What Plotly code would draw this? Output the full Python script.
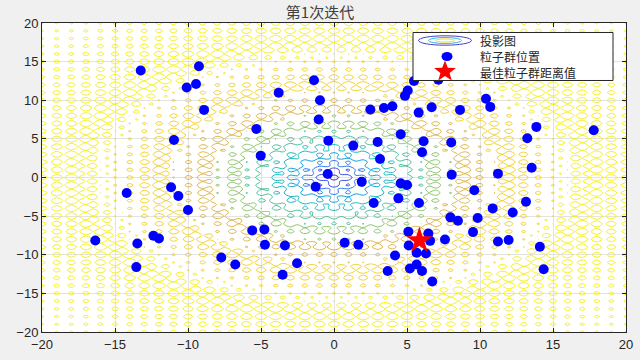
import numpy as np
import plotly.graph_objects as go

# particle positions
particle_x = [-13.24, -9.25, -9.45, -10.09, -8.9, -10.96, -1.37, -3.79, -0.96, -1.05,
              -5.32, -5.02, -0.39, 1.32, 2.99, 3.15, -0.43, 2.49, 3.42, 4.0,
              4.86, 5.05, 5.48, 5.8, 4.57, 6.14, 6.03, 6.69, 7.15, 8.63,
              10.41, 10.7, 13.86, 13.24, 17.79, 8.03, 13.54, 11.23, 8.06, -14.2,
              -11.16, -10.66, -10.0, -16.35, -13.47, -12.37, -11.99, -13.54, -7.72, -6.76,
              -1.26, 1.9, 4.57, 5.0, 4.41, 2.72, 5.82, -5.6, -4.77, -4.73,
              -3.36, -2.53, -3.52, 0.73, 1.67, 5.09, 6.46, 6.58, 5.12, 5.66,
              6.3, 4.18, 5.66, 5.2, 6.03, 3.68, 6.73, 9.61, 13.15, 10.87,
              12.24, 7.97, 8.49, 9.84, 9.52, 7.6, 11.23, 11.96, 14.1, 14.36]
particle_y = [13.85, 14.4, 12.1, 11.65, 8.75, 4.86, 12.6, 10.96, 10.0, 7.5,
              6.29, 2.83, 4.77, 4.13, 4.6, 2.4, 0.45, 8.8, 9.0, 9.23,
              10.57, 11.26, 12.5, 8.4, 5.6, 4.7, 3.27, 9.1, 12.65, 8.75,
              10.2, 9.14, 6.55, 5.08, 6.12, 4.52, 1.27, 0.5, 0.37, -2.0,
              -1.27, -2.4, -4.2, -8.15, -8.54, -7.55, -7.89, -11.6, -10.35, -11.26,
              -1.19, -0.54, -0.76, -0.97, -2.7, -3.3, -3.3, -6.85, -6.72, -8.71,
              -8.8, -11.1, -12.6, -8.45, -8.71, -7.03, -7.24, -8.2, -8.8, -9.75,
              -9.84, -10.1, -11.26, -11.78, -12.1, -12.1, -13.47, -1.66, -3.13, -4.0,
              -4.52, -5.16, -5.6, -5.25, -7.07, -8.02, -8.28, -8.1, -8.97, -11.87]
best_x = [5.85]
best_y = [-8.15]

title_text = "第1次迭代"
legend_names = ["投影图", "粒子群位置", "最佳粒子群距离值"]
tick_vals = [-20, -15, -10, -5, 0, 5, 10, 15, 20]
contour_levels = dict(start=2, end=20, size=2)

# objective surface (Ackley function) on a grid
g = np.arange(-20, 20.0001, 0.5)
X, Y = np.meshgrid(g, g)
Z = (-20 * np.exp(-0.2 * np.sqrt(0.5 * (X**2 + Y**2)))
     - np.exp(0.5 * (np.cos(2 * np.pi * X) + np.cos(2 * np.pi * Y))) + np.e + 20)

level_colors = [[0.0, "#3d2ba0"], [0.111, "#3a4de0"], [0.222, "#2a78f0"], [0.333, "#10a0dc"],
                [0.444, "#1bb8c0"], [0.556, "#4cbf9a"], [0.667, "#8cc46c"], [0.778, "#dcb64a"],
                [0.889, "#f2d232"], [1.0, "#f6f01e"]]

fig = go.Figure()
fig.add_trace(go.Contour(
    x=g, y=g, z=Z, colorscale=level_colors, zmin=2, zmax=20,
    contours=dict(coloring="lines", **contour_levels),
    line=dict(width=1), showscale=False, showlegend=False, hoverinfo="skip"))
fig.add_trace(go.Scatter(
    x=particle_x, y=particle_y, mode="markers", name=legend_names[1], showlegend=False,
    marker=dict(color="#0000ff", size=10, line=dict(width=0))))
fig.add_trace(go.Scatter(
    x=best_x, y=best_y, mode="markers", name=legend_names[2], showlegend=False,
    marker=dict(color="#ff0000", symbol="star", size=20, line=dict(width=0))))

axis_common = dict(range=[-20, 20], tickvals=tick_vals, showgrid=True, automargin=False,
                   gridcolor="#e3e3e3", gridwidth=1, zeroline=False,
                   showline=True, linecolor="#262626", linewidth=1, mirror="ticks",
                   ticks="inside", ticklen=4, tickcolor="#262626",
                   tickfont=dict(family="Liberation Sans, Arial", size=13, color="#262626"))

# ---- hand-drawn legend box (MATLAB style) ----
ax0, ay0 = 0.6353, 0.9693   # top-left corner of legend box in paper coords
icon_x = 32
rows = [-8, -24, -40]
shapes = [dict(type="rect", xref="paper", yref="paper", xsizemode="pixel", ysizemode="pixel",
               xanchor=ax0, yanchor=ay0, x0=0, x1=200, y0=0, y1=-48,
               line=dict(color="#262626", width=1), fillcolor="white")]
for (hw, hh, col) in [(26.5, 4.7, "#4a3fc8"), (16.5, 3.0, "#2fb8d8"), (9.5, 1.5, "#f2e21e")]:
    shapes.append(dict(type="circle", xref="paper", yref="paper", xsizemode="pixel",
                       ysizemode="pixel", xanchor=ax0, yanchor=ay0,
                       x0=icon_x - hw, x1=icon_x + hw, y0=rows[0] - hh, y1=rows[0] + hh,
                       line=dict(color=col, width=1)))
shapes.append(dict(type="circle", xref="paper", yref="paper", xsizemode="pixel",
                   ysizemode="pixel", xanchor=ax0, yanchor=ay0,
                   x0=icon_x + 2 - 5.5, x1=icon_x + 2 + 5.5, y0=rows[1] - 4.5, y1=rows[1] + 4.5,
                   line=dict(width=0), fillcolor="#0000ff"))
pts = []
for k in range(10):
    ang = np.pi / 2 + k * np.pi / 5
    r = 1.0 if k % 2 == 0 else 0.42
    pts.append((icon_x + 11.5 * r * np.cos(ang), rows[2] + 1 + 11 * r * np.sin(ang)))
star_path = "M " + " L ".join(f"{px:.2f},{py:.2f}" for px, py in pts) + " Z"
shapes.append(dict(type="path", xref="paper", yref="paper", xsizemode="pixel",
                   ysizemode="pixel", xanchor=ax0, yanchor=ay0, path=star_path,
                   line=dict(width=0), fillcolor="#ff0000"))

annotations = [dict(text=name, xref="paper", yref="paper", x=ax0, y=ay0, xshift=66,
                    yshift=dy, xanchor="left", yanchor="middle", showarrow=False,
                    borderpad=0,
                    font=dict(family="Noto Sans CJK SC", size=12, color="#262626"))
               for name, dy in zip(legend_names, rows)]

fig.update_layout(
    width=640, height=360,
    margin=dict(l=42, r=14, t=23, b=28),
    paper_bgcolor="#f0f0f0", plot_bgcolor="white",
    title=dict(text=title_text, x=0.5, xanchor="center", y=0.965, yanchor="middle",
               font=dict(family="Noto Sans CJK SC", size=15, color="#404040")),
    xaxis=axis_common, yaxis=axis_common,
    shapes=shapes, annotations=annotations,
    showlegend=False,
)

fig.write_html("out.html", config={"displayModeBar": False},
               post_script="document.body.style.margin='0';document.body.style.background='#f0f0f0';")
